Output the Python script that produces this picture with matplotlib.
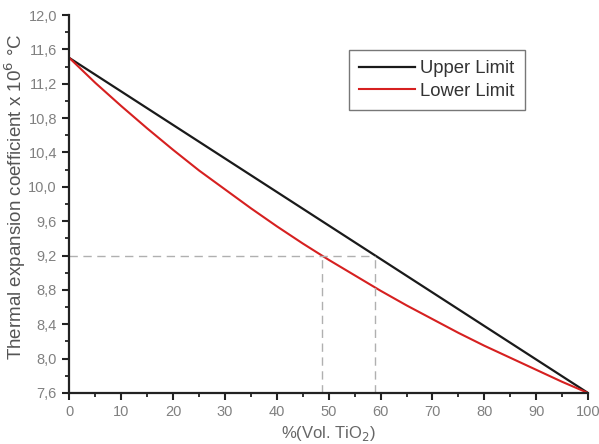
import matplotlib
matplotlib.use('Agg')
import matplotlib.pyplot as plt
from matplotlib.ticker import MultipleLocator, FuncFormatter

plt.rcParams['font.family'] = ['Liberation Sans', 'DejaVu Sans']

# values
vol_pct = [0, 5, 10, 15, 20, 25, 30, 35, 40, 45, 50, 55, 60, 65, 70, 75, 80, 85, 90, 95, 100]
lower_limit = [11.50, 11.21, 10.94, 10.68, 10.43, 10.19, 9.97, 9.75, 9.54, 9.34, 9.15,
               8.97, 8.79, 8.62, 8.46, 8.30, 8.15, 8.01, 7.87, 7.73, 7.60]
upper_x = [0, 100]
upper_limit = [11.50, 7.60]

# guide lines at 9.2
guide_y = 9.2
guide_x_lower = 48.7
guide_x_upper = 59.0

fig = plt.figure(figsize=(5.99, 4.44), dpi=100)
ax = fig.add_axes([0.1160, 0.115, 0.8656, 0.851])

ax.plot(upper_x, upper_limit, color='#1a1a1a', lw=1.6, label='Upper Limit')
ax.plot(vol_pct, lower_limit, color='#d62020', lw=1.5, label='Lower Limit')

gcol = '#b0b0b0'
ax.plot([0, guide_x_upper], [guide_y, guide_y], color=gcol, lw=1.0, ls=(0, (6, 4)))
ax.plot([guide_x_lower, guide_x_lower], [7.6, guide_y], color=gcol, lw=1.0, ls=(0, (6, 4)))
ax.plot([guide_x_upper, guide_x_upper], [7.6, guide_y], color=gcol, lw=1.0, ls=(0, (6, 4)))

ax.set_xlim(0, 100)
ax.set_ylim(7.6, 12.0)
ax.xaxis.set_major_locator(MultipleLocator(10))
ax.xaxis.set_minor_locator(MultipleLocator(5))
ax.yaxis.set_major_locator(MultipleLocator(0.4))
ax.yaxis.set_minor_locator(MultipleLocator(0.2))
ax.yaxis.set_major_formatter(FuncFormatter(lambda v, p: f'{v:.1f}'.replace('.', ',')))

for s in ['top', 'right']:
    ax.spines[s].set_visible(False)
for s in ['left', 'bottom']:
    ax.spines[s].set_linewidth(1.6)
    ax.spines[s].set_color('#222222')

ax.tick_params(which='major', direction='out', length=5, width=1.5, color='#222222',
               labelsize=10.5, labelcolor='#808080', pad=4)
ax.tick_params(which='minor', direction='out', length=3, width=1.3, color='#222222')

ax.set_xlabel('%(Vol. TiO$_2$)', fontsize=12, color='#666666', labelpad=3)
ax.set_ylabel('Thermal expansion coefficient x 10$^{6}$ °C', fontsize=13.5, color='#555555')
ax.yaxis.set_label_coords(-0.080, 0.52)

leg = ax.legend(loc='upper left', bbox_to_anchor=(349 / 599, 1 - 50 / 444),
                bbox_transform=fig.transFigure, borderaxespad=0, fontsize=13.3, frameon=True,
                fancybox=False, edgecolor='#555555', handlelength=3.0, handletextpad=0.3,
                borderpad=0.55, labelspacing=0.3)
leg.get_frame().set_linewidth(1.0)
for t in leg.get_texts():
    t.set_color('#333333')

fig.savefig('out.png', dpi=100)
